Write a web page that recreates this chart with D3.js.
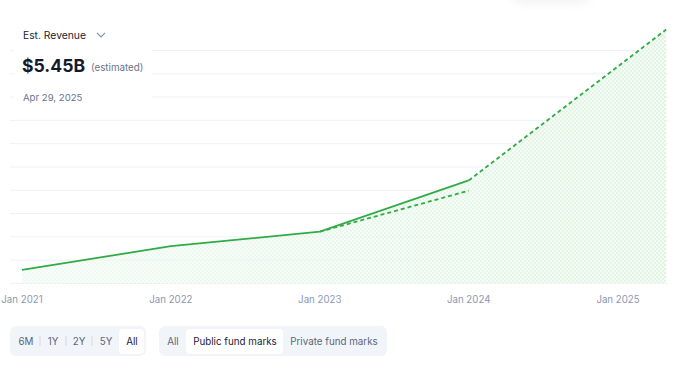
<!DOCTYPE html>
<html>
<head>
<meta charset="utf-8">
<script src="https://cdn.jsdelivr.net/npm/d3@7"></script>
<style>
  body { margin: 0; background: #fff; }
  svg { display: block; font-family: Inter, "Noto Sans", sans-serif; }
</style>
</head>
<body>
<svg id="chart" width="679" height="372"></svg>
<script>
// data (revenue, $B)
var actualDates = ["2021-01-01", "2022-01-01", "2023-01-01", "2024-01-01"];
var actualValues = [0.29, 0.80, 1.11, 2.21];
var projDates = ["2023-01-01", "2024-01-01"];
var projValues = [1.11, 1.99];
var estDates = ["2024-01-01", "2025-04-29"];
var estValues = [2.21, 5.45];
var tickDates = ["2021-01-01", "2022-01-01", "2023-01-01", "2024-01-01", "2025-01-01"];
var gridValues = [0, 0.5, 1, 1.5, 2, 2.5, 3, 3.5, 4, 4.5, 5];
var rangeButtons = ["6M", "1Y", "2Y", "5Y", "All"];
var markButtons = ["All", "Public fund marks", "Private fund marks"];

var parse = d3.timeParse("%Y-%m-%d");
var green = "#31ab46";

var svg = d3.select("#chart");

var x = d3.scaleTime()
  .domain([parse("2021-01-01"), parse("2025-01-01")])
  .range([22, 618]);
var y = d3.scaleLinear().domain([0, 5]).range([283.4, 50.5]);

function pts(dates, vals) {
  return dates.map(function(d, i) { return { date: parse(d), v: vals[i] }; });
}
var actual = pts(actualDates, actualValues);
var proj = pts(projDates, projValues);
var est = pts(estDates, estValues);

var defs = svg.append("defs");
var pat = defs.append("pattern")
  .attr("id", "hatch")
  .attr("width", 4).attr("height", 4)
  .attr("patternUnits", "userSpaceOnUse");
pat.append("rect").attr("width", 4).attr("height", 4).attr("fill", "#f3fbf4");
pat.append("rect").attr("width", 2).attr("height", 2).attr("fill", "#e2f5e5");
pat.append("rect").attr("x", 2).attr("y", 2).attr("width", 2).attr("height", 2).attr("fill", "#e2f5e5");

var fade = defs.append("linearGradient").attr("id", "fade")
  .attr("x1", 0).attr("x2", 1).attr("y1", 0).attr("y2", 0);
fade.append("stop").attr("offset", "0%").attr("stop-color", "#fff").attr("stop-opacity", 0.45);
fade.append("stop").attr("offset", "100%").attr("stop-color", "#fff").attr("stop-opacity", 1);
defs.append("mask").attr("id", "fadeMask")
  .append("rect").attr("x", 0).attr("y", 0).attr("width", 679).attr("height", 372)
  .attr("fill", "url(#fade)");

var blur = defs.append("filter").attr("id", "shadow")
  .attr("x", "-50%").attr("y", "-50%").attr("width", "200%").attr("height", "200%");
blur.append("feGaussianBlur").attr("stdDeviation", 6);

// faint shadow of a card above the view
svg.append("rect")
  .attr("x", 512).attr("y", -30).attr("width", 78).attr("height", 32)
  .attr("rx", 8).attr("fill", "#000").attr("opacity", 0.06)
  .attr("filter", "url(#shadow)");

// grid
svg.append("g").selectAll("line")
  .data(gridValues).enter().append("line")
  .attr("x1", 10).attr("x2", 668)
  .attr("y1", function(d) { return y(d); })
  .attr("y2", function(d) { return y(d); })
  .attr("stroke", "#eef1f6").attr("stroke-width", 1);

// area under the upper envelope
var envelope = actual.concat(est.slice(1));
var area = d3.area()
  .x(function(d) { return x(d.date); })
  .y0(y(0))
  .y1(function(d) { return y(d.v); });
svg.append("path")
  .datum(envelope)
  .attr("d", area)
  .attr("fill", "url(#hatch)")
  .attr("mask", "url(#fadeMask)");

var line = d3.line()
  .x(function(d) { return x(d.date); })
  .y(function(d) { return y(d.v); });

svg.append("path").datum(actual).attr("d", line)
  .attr("fill", "none").attr("stroke", green).attr("stroke-width", 1.8);
svg.append("path").datum(proj).attr("d", line)
  .attr("fill", "none").attr("stroke", green).attr("stroke-width", 1.8)
  .attr("stroke-dasharray", "4,3");
svg.append("path").datum(est).attr("d", line)
  .attr("fill", "none").attr("stroke", green).attr("stroke-width", 1.8)
  .attr("stroke-dasharray", "4,3");

// x axis labels
var fmt = d3.timeFormat("%b %Y");
svg.append("g").selectAll("text")
  .data(tickDates).enter().append("text")
  .attr("x", function(d) { return x(parse(d)); })
  .attr("y", 303)
  .attr("text-anchor", "middle")
  .attr("font-size", 9.7)
  .attr("fill", "#8d97b3")
  .text(function(d) { return fmt(parse(d)); });

// header box
svg.append("rect").attr("x", 14).attr("y", 18).attr("width", 138).attr("height", 90).attr("fill", "#fff");
svg.append("text").attr("x", 23).attr("y", 39).attr("font-size", 10.3).attr("fill", "#1b2233").text("Est. Revenue");
svg.append("path").attr("d", "M97,33 L101,37 L105,33")
  .attr("fill", "none").attr("stroke", "#8a93a8").attr("stroke-width", 1.1);
svg.append("text").attr("x", 22).attr("y", 72).attr("font-size", 17.6).attr("font-weight", 700)
  .attr("fill", "#141a2a").text("$5.45B");
svg.append("text").attr("x", 91).attr("y", 71).attr("font-size", 9.8).attr("fill", "#6b7488").text("(estimated)");
svg.append("text").attr("x", 23).attr("y", 101).attr("font-size", 9.6).attr("fill", "#667493").text("Apr 29, 2025");

// range buttons
var g1 = svg.append("g");
g1.append("rect").attr("x", 10).attr("y", 326).attr("width", 136).attr("height", 30)
  .attr("rx", 6).attr("fill", "#f1f4f9");
g1.append("rect").attr("x", 119).attr("y", 329).attr("width", 25).attr("height", 25)
  .attr("rx", 4).attr("fill", "#fff");
var rx = [26, 53, 79, 106, 132];
g1.selectAll("text").data(rangeButtons).enter().append("text")
  .attr("x", function(d, i) { return rx[i]; })
  .attr("y", 345)
  .attr("text-anchor", "middle")
  .attr("font-size", 9.8)
  .attr("fill", function(d, i) { return i === 4 ? "#1b2233" : "#5c667d"; })
  .text(function(d) { return d; });
g1.selectAll("line").data([40, 66, 92]).enter().append("line")
  .attr("x1", function(d) { return d; }).attr("x2", function(d) { return d; })
  .attr("y1", 336).attr("y2", 346)
  .attr("stroke", "#d3d9e3");

// fund mark buttons
var g2 = svg.append("g");
g2.append("rect").attr("x", 159).attr("y", 326).attr("width", 228).attr("height", 30)
  .attr("rx", 6).attr("fill", "#f1f4f9");
g2.append("rect").attr("x", 186).attr("y", 329).attr("width", 97).attr("height", 25)
  .attr("rx", 4).attr("fill", "#fff");
var mx = [173, 235, 334];
g2.selectAll("text").data(markButtons).enter().append("text")
  .attr("x", function(d, i) { return mx[i]; })
  .attr("y", 345)
  .attr("text-anchor", "middle")
  .attr("font-size", 9.8)
  .attr("fill", function(d, i) { return i === 1 ? "#1b2233" : "#5c667d"; })
  .text(function(d) { return d; });
</script>
</body>
</html>
